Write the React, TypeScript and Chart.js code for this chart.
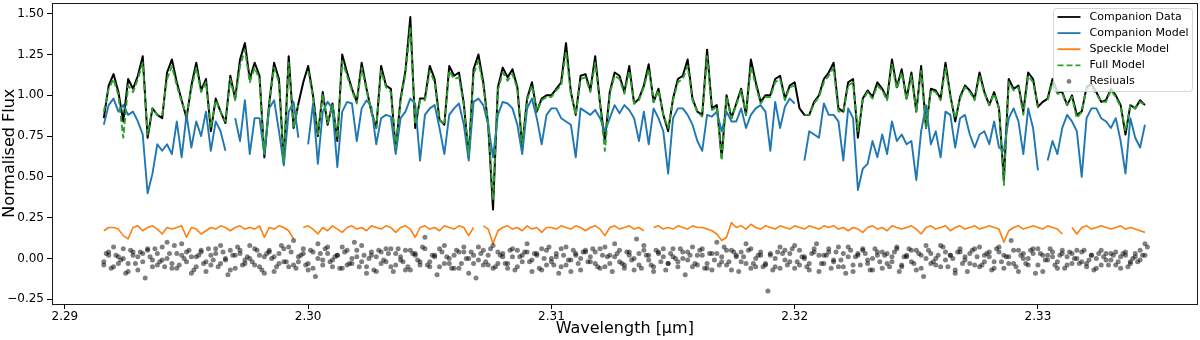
import React, { useEffect, useRef } from "react";
import { Chart, registerables } from "chart.js";

Chart.register(...registerables);

const FONT = "'DejaVu Sans', 'Liberation Sans', sans-serif";

// Wavelength grid [µm]
const wavelength = [
  2.2916, 2.2918, 2.2920, 2.2922, 2.2924, 2.2926, 2.2928, 2.2930, 2.2932, 2.2934,
  2.2936, 2.2938, 2.2940, 2.2942, 2.2944, 2.2946, 2.2948, 2.2950, 2.2952, 2.2954,
  2.2956, 2.2958, 2.2960, 2.2962, 2.2964, 2.2966, 2.2968, 2.2970, 2.2972, 2.2974,
  2.2976, 2.2978, 2.2980, 2.2982, 2.2984, 2.2986, 2.2988, 2.2990, 2.2992, 2.2994,
  2.2996, 2.2998, 2.3000, 2.3002, 2.3004, 2.3006, 2.3008, 2.3010, 2.3012, 2.3014,
  2.3016, 2.3018, 2.3020, 2.3022, 2.3024, 2.3026, 2.3028, 2.3030, 2.3032, 2.3034,
  2.3036, 2.3038, 2.3040, 2.3042, 2.3044, 2.3046, 2.3048, 2.3050, 2.3052, 2.3054,
  2.3056, 2.3058, 2.3060, 2.3062, 2.3064, 2.3066, 2.3068, 2.3070, 2.3072, 2.3074,
  2.3076, 2.3078, 2.3080, 2.3082, 2.3084, 2.3086, 2.3088, 2.3090, 2.3092, 2.3094,
  2.3096, 2.3098, 2.3100, 2.3102, 2.3104, 2.3106, 2.3108, 2.3110, 2.3112, 2.3114,
  2.3116, 2.3118, 2.3120, 2.3122, 2.3124, 2.3126, 2.3128, 2.3130, 2.3132, 2.3134,
  2.3136, 2.3138, 2.3140, 2.3142, 2.3144, 2.3146, 2.3148, 2.3150, 2.3152, 2.3154,
  2.3156, 2.3158, 2.3160, 2.3162, 2.3164, 2.3166, 2.3168, 2.3170, 2.3172, 2.3174,
  2.3176, 2.3178, 2.3180, 2.3182, 2.3184, 2.3186, 2.3188, 2.3190, 2.3192, 2.3194,
  2.3196, 2.3198, 2.3200, 2.3202, 2.3204, 2.3206, 2.3208, 2.3210, 2.3212, 2.3214,
  2.3216, 2.3218, 2.3220, 2.3222, 2.3224, 2.3226, 2.3228, 2.3230, 2.3232, 2.3234,
  2.3236, 2.3238, 2.3240, 2.3242, 2.3244, 2.3246, 2.3248, 2.3250, 2.3252, 2.3254,
  2.3256, 2.3258, 2.3260, 2.3262, 2.3264, 2.3266, 2.3268, 2.3270, 2.3272, 2.3274,
  2.3276, 2.3278, 2.3280, 2.3282, 2.3284, 2.3286, 2.3288, 2.3290, 2.3292, 2.3294,
  2.3296, 2.3298, 2.3300, 2.3302, 2.3304, 2.3306, 2.3308, 2.3310, 2.3312, 2.3314,
  2.3316, 2.3318, 2.3320, 2.3322, 2.3324, 2.3326, 2.3328, 2.3330, 2.3332, 2.3334,
  2.3336, 2.3338, 2.3340, 2.3342, 2.3344,
];

// Intermediate wavelength samples used by part of the residuals
const wavelengthMid = [
  2.2917, 2.2919, 2.2921, 2.2923, 2.2925, 2.2927, 2.2929, 2.2931, 2.2933, 2.2935,
  2.2937, 2.2939, 2.2941, 2.2943, 2.2945, 2.2947, 2.2949, 2.2951, 2.2953, 2.2955,
  2.2957, 2.2959, 2.2961, 2.2963, 2.2965, 2.2967, 2.2969, 2.2971, 2.2973, 2.2975,
  2.2977, 2.2979, 2.2981, 2.2983, 2.2985, 2.2987, 2.2989, 2.2991, 2.2993, 2.2995,
  2.2997, 2.2999, 2.3001, 2.3003, 2.3005, 2.3007, 2.3009, 2.3011, 2.3013, 2.3015,
  2.3017, 2.3019, 2.3021, 2.3023, 2.3025, 2.3027, 2.3029, 2.3031, 2.3033, 2.3035,
  2.3037, 2.3039, 2.3041, 2.3043, 2.3045, 2.3047, 2.3049, 2.3051, 2.3053, 2.3055,
  2.3057, 2.3059, 2.3061, 2.3063, 2.3065, 2.3067, 2.3069, 2.3071, 2.3073, 2.3075,
  2.3077, 2.3079, 2.3081, 2.3083, 2.3085, 2.3087, 2.3089, 2.3091, 2.3093, 2.3095,
  2.3097, 2.3099, 2.3101, 2.3103, 2.3105, 2.3107, 2.3109, 2.3111, 2.3113, 2.3115,
  2.3117, 2.3119, 2.3121, 2.3123, 2.3125, 2.3127, 2.3129, 2.3131, 2.3133, 2.3135,
  2.3137, 2.3139, 2.3141, 2.3143, 2.3145, 2.3147, 2.3149, 2.3151, 2.3153, 2.3155,
  2.3157, 2.3159, 2.3161, 2.3163, 2.3165, 2.3167, 2.3169, 2.3171, 2.3173, 2.3175,
  2.3177, 2.3179, 2.3181, 2.3183, 2.3185, 2.3187, 2.3189, 2.3191, 2.3193, 2.3195,
  2.3197, 2.3199, 2.3201, 2.3203, 2.3205, 2.3207, 2.3209, 2.3211, 2.3213, 2.3215,
  2.3217, 2.3219, 2.3221, 2.3223, 2.3225, 2.3227, 2.3229, 2.3231, 2.3233, 2.3235,
  2.3237, 2.3239, 2.3241, 2.3243, 2.3245, 2.3247, 2.3249, 2.3251, 2.3253, 2.3255,
  2.3257, 2.3259, 2.3261, 2.3263, 2.3265, 2.3267, 2.3269, 2.3271, 2.3273, 2.3275,
  2.3277, 2.3279, 2.3281, 2.3283, 2.3285, 2.3287, 2.3289, 2.3291, 2.3293, 2.3295,
  2.3297, 2.3299, 2.3301, 2.3303, 2.3305, 2.3307, 2.3309, 2.3311, 2.3313, 2.3315,
  2.3317, 2.3319, 2.3321, 2.3323, 2.3325, 2.3327, 2.3329, 2.3331, 2.3333, 2.3335,
  2.3337, 2.3339, 2.3341, 2.3343, 2.3345,
];

const companionData = [
  0.86, 1.06, 1.13, 1.02, 0.84, 1.10, 1.04, 1.12, 1.24, 0.74,
  0.92, 0.88, 0.86, 1.14, 1.22, 1.08, 0.97, 0.86, 1.06, 1.20,
  1.03, 1.10, 0.78, 0.98, 0.90, 0.83, 1.12, 0.98, 1.22, 1.32,
  1.10, 1.20, 1.12, 0.62, 0.95, 1.20, 1.10, 0.58, 1.24, 0.80,
  0.95, 1.08, 1.18, 1.00, 0.75, 1.02, 0.82, 0.95, 0.72, 1.25,
  1.14, 1.04, 0.96, 1.20, 1.04, 0.90, 0.80, 1.18, 1.06, 1.04,
  0.66,
  0.98, 1.15, 1.48, 0.80, 0.98, 0.98, 1.18, 1.10, 0.85, 0.82,
  1.18, 1.12, 1.14, 0.95, 0.62, 1.16, 1.25, 1.08, 0.82, 0.30,
  1.05, 1.17, 1.11, 1.16, 1.05, 0.68, 0.98, 1.08, 0.90, 0.98,
  1.00,
  1.00, 1.04, 1.08, 1.32, 1.02, 0.88, 1.12, 1.13, 1.03, 1.24,
  0.95, 0.72, 1.02, 1.14, 1.12, 1.02, 1.18, 0.95, 0.98, 1.06,
  1.19, 0.96, 1.04, 0.88, 0.78, 0.98, 1.10, 1.12, 1.22, 0.98,
  0.90,
  0.88, 1.28, 0.92, 0.94, 0.62, 1.00, 0.86, 0.95, 1.04, 0.88,
  1.22, 1.08, 0.96, 1.00, 1.00, 1.10, 1.12, 0.98, 1.06, 1.08,
  0.92, 0.88, 0.88, 0.96, 1.00, 1.10, 1.14, 1.20, 0.92, 0.90,
  1.08,
  1.10, 0.74, 0.98, 1.03, 0.99, 1.08, 1.04, 0.98, 1.22, 1.05,
  1.16, 0.98, 1.14, 0.90, 1.18, 0.80, 1.04, 1.03, 0.98, 1.20,
  1.00, 0.84, 0.99, 1.06, 1.03, 0.98, 1.14, 1.02, 0.94, 1.02,
  0.92,
  0.48, 1.10, 1.04, 1.06, 0.90, 1.14, 1.10, 0.93, 0.96, 0.98,
  1.10, 1.02, 1.02, 0.94, 1.00, 0.88, 0.90, 1.05, 1.07, 1.02,
  0.96, 0.97, 1.04, 1.00, 0.94, 0.76, 0.94, 0.92, 0.97, 0.94,
];

const companionModel = [
  0.82, 0.94, 0.98, 0.90, 0.94, 0.88, 0.90, 0.84, 0.76, 0.40,
  0.52, 0.70, 0.66, 0.70, 0.64, 0.84, 0.62, 0.88, 0.68, 0.84,
  0.75, 0.90, 0.66, 0.84, 0.78, 0.66, null, 0.86, 0.72, 0.97,
  0.64, 0.86, 0.86, 0.64, 0.92, 0.97, 0.78, 0.57, 0.90, 0.96,
  0.74, null, 0.70, 0.95, 0.58, 0.90, 0.96, 0.92, 0.56, 0.90,
  0.96, 0.95, 0.72, 0.92, 0.97, 0.93, 0.70, 0.86, 0.88, 0.87,
  0.64,
  0.86, 0.90, 0.98, 0.95, 0.60, 0.88, 0.92, 0.94, 0.80, 0.64,
  0.88, 0.92, 0.95, 0.82, 0.60, 0.96, 0.98, 0.94, 0.82, 0.62,
  0.88, 0.96, 0.95, 0.92, 0.82, 0.64, 0.92, 0.98, 0.86, 0.70,
  0.88,
  0.92, 0.92, 0.86, 0.84, 0.82, 0.62, 0.92, 0.90, 0.88, 0.91,
  0.86, 0.78, 0.86, 0.94, 0.89, 0.94, 0.91, 0.86, 0.72, 0.90,
  0.70, 0.92, 0.86, 0.78, 0.52, 0.86, 0.92, 0.92, 0.88, 0.82,
  0.72,
  0.66, 0.88, 0.87, 0.90, 0.78, 0.90, 0.84, 0.84, 0.92, 0.80,
  0.88, 0.92, 0.94, 0.90, 0.66, 0.96, 0.80, 0.93, 0.98, 0.95,
  null, 0.60, 0.78, 0.76, 0.74, 0.95, 0.88, 0.88, 0.84, 0.60,
  0.92,
  0.86, 0.42, 0.55, 0.58, 0.72, 0.62, 0.76, 0.64, 0.84, 0.72,
  0.76, 0.70, 0.72, 0.48, 0.78, 0.94, 0.70, 0.78, 0.62, 0.90,
  0.88, 0.68, 0.86, 0.88, 0.76, 0.68, 0.76, 0.78, 0.70, 0.84,
  0.68,
  0.66, 0.86, 0.92, 0.84, 0.64, 0.92, 0.80, 0.54, null, 0.60,
  0.72, 0.64, 0.80, 0.88, 0.84, 0.78, 0.50, 0.86, 0.92, 0.92,
  0.86, 0.84, 0.80, 0.86, 0.72, 0.52, 0.86, 0.74, 0.68, 0.82,
];

const speckleModel = [
  0.17, 0.19, 0.19, 0.18, 0.14, 0.12, 0.19, 0.20, 0.17, 0.19,
  0.20, 0.18, 0.15, 0.19, 0.18, 0.19, 0.20, 0.13, 0.19, 0.18,
  0.15, 0.17, 0.19, 0.18, 0.20, 0.19, 0.17, 0.19, 0.20, 0.18,
  0.19, 0.18, 0.20, 0.13, 0.19, 0.18, 0.20, 0.19, 0.17, 0.12,
  null, 0.19, 0.20, 0.18, 0.15, 0.19, 0.17, 0.20, 0.18, 0.16,
  0.19, 0.20, 0.18, 0.19, 0.17, 0.20, 0.19, 0.18, 0.20, 0.19,
  0.16,
  0.19, 0.20, 0.18, 0.13, 0.19, 0.20, 0.18, 0.19, 0.17, 0.20,
  0.19, 0.18, 0.20, 0.19, 0.14, 0.19, null, 0.20, 0.18, 0.09,
  0.17, 0.19, 0.20, 0.18, 0.19, 0.17, 0.20, 0.18, 0.19, 0.16,
  0.19,
  0.19, 0.18, 0.20, 0.19, 0.18, 0.20, 0.19, 0.17, 0.19, 0.20,
  0.18, 0.14, 0.19, 0.20, 0.18, 0.19, 0.20, 0.18, 0.19, 0.17,
  null, 0.19, 0.20, 0.18, 0.19, 0.18, 0.20, 0.19, 0.18, 0.20,
  0.19,
  0.19, 0.18, 0.17, 0.15, 0.11, 0.13, 0.22, 0.19, 0.20, 0.18,
  0.21, 0.19, 0.18, 0.20, 0.19, 0.18, 0.20, 0.19, 0.18, 0.20,
  0.19, 0.18, 0.20, 0.19, 0.18, 0.20, 0.19, 0.20, 0.18, 0.19,
  0.17,
  0.19, 0.18, 0.16, 0.19, 0.20, 0.18, 0.19, 0.17, 0.20, 0.19,
  0.18, 0.19, 0.20, 0.18, 0.15, 0.19, 0.20, 0.18, 0.19, 0.20,
  0.17, 0.19, 0.20, 0.18, 0.19, 0.20, 0.18, 0.19, 0.20, 0.19,
  0.18,
  0.10, 0.17, 0.19, 0.20, 0.18, 0.19, 0.20, 0.19, 0.18, 0.20,
  0.19, 0.18, 0.15, null, 0.19, 0.15, 0.19, 0.20, 0.18, 0.19,
  0.20, 0.19, 0.18, 0.19, 0.20, 0.18, 0.19, 0.18, 0.17, 0.16,
];

const fullModel = [
  0.90, 1.04, 1.10, 1.00, 0.74, 1.06, 1.02, 1.10, 1.20, 0.76,
  0.92, 0.88, 0.88, 1.10, 1.18, 1.06, 0.96, 0.88, 1.04, 1.17,
  1.02, 1.08, 0.80, 0.97, 0.90, 0.84, 1.10, 0.97, 1.18, 1.28,
  1.08, 1.17, 1.10, 0.64, 0.95, 1.17, 1.08, 0.60, 1.20, 0.80,
  0.94, null, 1.15, 0.99, 0.76, 1.01, 0.83, 0.94, 0.74, 1.21,
  1.12, 1.03, 0.95, 1.17, 1.03, 0.90, 0.80, 1.15, 1.05, 1.02,
  0.68,
  0.97, 1.13, 1.42, 0.82, 0.97, 0.97, 1.15, 1.08, 0.85, 0.82,
  1.15, 1.10, 1.11, 0.94, 0.64, 1.13, 1.21, 1.06, 0.83, 0.36,
  1.03, 1.14, 1.09, 1.13, 1.04, 0.70, 0.97, 1.06, 0.90, 0.97,
  0.99,
  0.99, 1.03, 1.06, 1.27, 1.01, 0.88, 1.10, 1.11, 1.02, 1.20,
  0.94, 0.66, 1.01, 1.12, 1.10, 1.01, 1.15, 0.95, 0.97, 1.05,
  1.16, 0.96, 1.03, 0.88, 0.80, 0.97, 1.08, 1.10, 1.18, 0.97,
  0.90,
  0.87, 1.24, 0.91, 0.93, 0.60, 0.99, 0.86, 0.94, 1.03, 0.88,
  1.18, 1.06, 0.95, 0.99, 0.99, 1.08, 1.10, 0.97, 1.05, 1.06,
  null, 0.88, 0.88, 0.95, 0.99, 1.08, 1.12, 1.17, 0.90, 0.90,
  1.06,
  1.08, 0.78, 0.97, 1.02, 0.98, 1.06, 1.03, 0.97, 1.19, 1.04,
  1.14, 0.97, 1.12, 0.90, 1.15, 0.80, 1.03, 1.02, 0.97, 1.17,
  0.99, 0.86, 0.98, 1.05, 1.02, 0.97, 1.12, 1.01, 0.94, 1.01,
  0.92,
  0.45, 1.08, 1.03, 1.05, 0.88, 1.12, 1.08, 0.93, null, 0.97,
  1.08, 1.01, 1.01, 0.94, 0.99, 0.86, 0.90, 1.04, 1.05, 1.01,
  0.96, 0.96, 1.03, 0.99, 0.93, 0.78, 0.94, 0.92, 0.96, 0.94,
];

const residualsA = [
  -0.02, 0.04, -0.05, 0.01, 0.06, -0.03, 0.02, -0.07, 0.03, 0.05, -0.01, -0.04, 0.07, 0.00, -0.06, 0.03, 0.09, -0.02, 0.01, -0.05,
  0.04, -0.08, 0.02, 0.06, -0.03, 0.00, 0.05, -0.06, 0.03, -0.01, 0.08, -0.04, 0.02, -0.09, 0.05, 0.01, -0.03, 0.06, -0.05, 0.11,
  -0.02, 0.03, -0.07, 0.04, 0.00, -0.04, 0.07, -0.01, 0.02, -0.06, 0.05, -0.03, 0.01, 0.08, -0.05, 0.02, -0.08, 0.04, -0.02, 0.06,
  -0.04, 0.01, 0.05, -0.07, 0.03, -0.02, 0.13, -0.05, 0.02, 0.06, -0.03, 0.00, -0.06, 0.04, 0.07, -0.09, 0.02, -0.01, 0.05, -0.04,
  0.08, -0.03, 0.03, -0.06, 0.01, 0.05, -0.02, 0.04, -0.08, 0.02, 0.06, -0.04, 0.00, 0.03, -0.05, 0.07, -0.01, 0.02, -0.07, 0.04,
  0.01, -0.03, 0.06, -0.05, 0.02, 0.09, -0.02, -0.06, 0.04, 0.00, -0.04, 0.05, 0.02, -0.08, 0.03, 0.06, -0.03, 0.01, -0.05, 0.04,
  -0.01, 0.07, -0.04, 0.02, -0.06, 0.03, 0.10, -0.02, 0.05, -0.07, 0.01, 0.04, -0.03, 0.06, -0.05, 0.02, -0.04, 0.03, 0.00, -0.06,
  0.05, -0.02, 0.08, -0.04, 0.01, -0.07, 0.04, 0.02, -0.03, 0.06, -0.01, -0.05, 0.03, 0.07, -0.08, 0.02, 0.05, -0.03, 0.00, 0.04,
  -0.06, 0.03, -0.02, 0.06, -0.04, 0.01, 0.05, -0.07, 0.02, 0.08, -0.03, 0.00, -0.05, 0.04, 0.02, -0.09, 0.06, -0.01, 0.03, -0.04,
  0.07, -0.02, 0.01, -0.06, 0.04, 0.02, -0.03, 0.05, -0.08, 0.03, 0.00, 0.06, -0.04, 0.02, -0.01, 0.04, -0.06, 0.03, 0.01, -0.03,
  0.05, -0.02, -0.05, 0.02, 0.00, -0.04, 0.03, -0.01, 0.04, -0.06, 0.02, -0.03, 0.01, 0.05, 0.09,
];

const residualsB = [
  0.03, -0.06, 0.02, -0.01, -0.09, 0.05, -0.03, 0.04, -0.12, 0.01, 0.06, -0.02, -0.05, 0.03, 0.08, -0.04, 0.00, 0.05, -0.07, 0.02,
  -0.03, 0.06, -0.01, -0.05, 0.04, -0.10, 0.02, 0.07, -0.04, 0.01, -0.02, 0.05, -0.07, 0.03, 0.00, -0.05, 0.08, -0.02, 0.04, -0.06,
  0.02, -0.04, 0.05, -0.11, 0.03, 0.06, -0.02, 0.01, -0.06, 0.04, -0.03, 0.10, -0.05, 0.02, 0.00, -0.07, 0.05, -0.01, 0.03, -0.08,
  0.06, -0.02, -0.05, 0.03, -0.01, 0.07, -0.04, 0.02, -0.10, 0.04, 0.01, -0.06, 0.05, -0.03, 0.00, 0.04, -0.12, 0.03, -0.02, 0.06,
  -0.05, 0.02, -0.03, 0.05, -0.07, 0.01, 0.04, -0.02, 0.03, -0.06, 0.00, 0.07, -0.04, -0.09, 0.02, -0.01, 0.05, -0.03, 0.04, -0.02,
  0.06, -0.05, 0.02, 0.01, -0.08, 0.03, -0.03, 0.04, -0.01, 0.12, -0.06, 0.02, -0.04, 0.05, -0.02, -0.07, 0.03, 0.00, 0.06, -0.10,
  0.02, -0.03, 0.05, -0.06, 0.03, -0.01, -0.04, 0.07, -0.02, 0.04, -0.08, 0.01, 0.05, -0.03, 0.02, -0.05, -0.20, -0.07, 0.04, 0.03,
  -0.04, 0.06, -0.02, 0.01, -0.05, 0.03, 0.09, -0.03, 0.02, -0.06, 0.04, -0.01, -0.09, 0.05, 0.01, -0.04, 0.03, -0.07, 0.06, -0.02,
  0.02, -0.05, 0.04, -0.08, 0.01, 0.06, -0.03, 0.03, -0.11, 0.05, -0.02, 0.02, 0.07, -0.05, 0.00, 0.04, -0.03, -0.08, 0.05, 0.01,
  -0.04, 0.03, -0.07, 0.06, -0.02, 0.01, 0.11, -0.05, 0.02, -0.03, 0.05, -0.09, 0.03, -0.01, 0.06, -0.04, 0.02, -0.06, 0.04, 0.00,
  -0.03, 0.05, -0.01, -0.07, 0.03, 0.01, -0.04, 0.02, -0.02, 0.03, -0.05, 0.00, -0.02, 0.02, 0.07,
];

const residualsC = [
  -0.04, 0.02, 0.07, -0.03, 0.00, -0.08, 0.04, 0.01, -0.02, 0.06, -0.05, 0.03, -0.01, 0.10, -0.03, -0.06, 0.02, 0.04, -0.09, 0.01,
  0.05, -0.02, -0.04, 0.03, 0.08, -0.01, -0.07, 0.02, 0.05, -0.03, 0.00, 0.06, -0.05, 0.01, 0.04, -0.08, 0.03, -0.02, 0.07, -0.04,
  0.01, 0.06, -0.03, -0.06, 0.09, -0.01, 0.03, -0.05, 0.02, 0.07, -0.04, 0.00, 0.05, -0.02, -0.09, 0.04, 0.01, -0.03, 0.06, -0.05,
  0.03, -0.01, -0.07, 0.05, 0.02, -0.04, 0.06, -0.02, 0.01, -0.05, 0.08, -0.03, 0.02, -0.06, 0.04, 0.00, -0.03, 0.07, -0.04, 0.02,
  -0.06, 0.04, 0.01, -0.03, 0.06, -0.05, 0.02, 0.09, -0.01, 0.03, -0.07, 0.05, -0.02, 0.01, 0.06, -0.04, -0.08, 0.03, 0.00, 0.05,
  -0.02, 0.04, -0.06, 0.07, -0.03, 0.01, 0.05, -0.04, 0.02, -0.07, 0.03, 0.08, -0.01, -0.05, 0.04, 0.01, -0.03, 0.06, -0.02, 0.00,
  0.04, -0.05, 0.02, 0.06, -0.03, -0.07, 0.03, 0.01, -0.04, 0.05, 0.02, -0.02, 0.09, -0.06, 0.00, 0.04, -0.03, 0.02, -0.05, 0.07,
  -0.01, 0.03, -0.06, 0.05, 0.00, -0.03, 0.06, -0.08, 0.02, 0.04, -0.02, 0.07, -0.05, 0.01, -0.04, 0.03, 0.06, -0.01, -0.07, 0.02,
  0.04, -0.03, 0.01, 0.07, -0.05, 0.02, -0.02, 0.05, -0.06, 0.00, 0.03, -0.04, 0.08, -0.01, 0.02, -0.07, 0.04, 0.01, -0.03, 0.06,
  -0.05, 0.02, 0.04, -0.02, 0.07, -0.06, 0.01, -0.03, 0.05, 0.00, -0.04, 0.03, 0.06, -0.08, 0.02, 0.01, -0.02, 0.05, -0.04, 0.03,
  0.00, 0.04, -0.03, 0.02, -0.06, 0.05, -0.01, 0.03, -0.04, 0.01, 0.04, -0.02, 0.03, -0.01, 0.02,
];

const xTickValues = [2.29, 2.30, 2.31, 2.32, 2.33];
const yTickValues = [-0.25, 0.0, 0.25, 0.5, 0.75, 1.0, 1.25, 1.5];
const X_MIN = 2.28947;
const X_MAX = 2.33656;
const Y_MIN = -0.279;
const Y_MAX = 1.569;

const legendEntries = [
  { label: "Companion Data", color: "#000000", kind: "line", dash: [] as number[] },
  { label: "Companion Model", color: "#1f77b4", kind: "line", dash: [] as number[] },
  { label: "Speckle Model", color: "#ff7f0e", kind: "line", dash: [] as number[] },
  { label: "Full Model", color: "#2ca02c", kind: "line", dash: [6, 3] },
  { label: "Resiuals", color: "rgba(0,0,0,0.5)", kind: "dot", dash: [] as number[] },
];

const framePlugin = {
  id: "frame",
  afterDraw(chart: any) {
    const { ctx, chartArea } = chart;
    ctx.save();
    ctx.strokeStyle = "#1a1a1a";
    ctx.lineWidth = 1;
    const l = Math.round(chartArea.left) + 0.5;
    const t = Math.round(chartArea.top) + 0.5;
    const r = Math.round(chartArea.right) - 0.5;
    const b = Math.round(chartArea.bottom) + 0.5;
    ctx.strokeRect(l, t, r - l, b - t);
    ctx.restore();
  },
};

const legendPlugin = {
  id: "mplLegend",
  afterDraw(chart: any) {
    const { ctx, chartArea } = chart;
    const w = 139;
    const h = 83;
    const x0 = chartArea.right - 5 - w;
    const y0 = chartArea.top + 6;
    ctx.save();
    const r = 3;
    ctx.beginPath();
    ctx.moveTo(x0 + r, y0);
    ctx.lineTo(x0 + w - r, y0);
    ctx.quadraticCurveTo(x0 + w, y0, x0 + w, y0 + r);
    ctx.lineTo(x0 + w, y0 + h - r);
    ctx.quadraticCurveTo(x0 + w, y0 + h, x0 + w - r, y0 + h);
    ctx.lineTo(x0 + r, y0 + h);
    ctx.quadraticCurveTo(x0, y0 + h, x0, y0 + h - r);
    ctx.lineTo(x0, y0 + r);
    ctx.quadraticCurveTo(x0, y0, x0 + r, y0);
    ctx.closePath();
    ctx.fillStyle = "rgba(255,255,255,0.8)";
    ctx.fill();
    ctx.strokeStyle = "rgba(204,204,204,0.8)";
    ctx.lineWidth = 1;
    ctx.stroke();

    ctx.font = `11px ${FONT}`;
    ctx.textBaseline = "middle";
    ctx.textAlign = "left";
    legendEntries.forEach((e, i) => {
      const cy = y0 + 8.5 + i * 16.1;
      const hx0 = x0 + 4;
      const hx1 = x0 + 27;
      if (e.kind === "line") {
        ctx.beginPath();
        ctx.setLineDash(e.dash);
        ctx.strokeStyle = e.color;
        ctx.lineWidth = 1.8;
        ctx.moveTo(hx0, cy);
        ctx.lineTo(hx1, cy);
        ctx.stroke();
        ctx.setLineDash([]);
      } else {
        ctx.beginPath();
        ctx.fillStyle = e.color;
        ctx.arc((hx0 + hx1) / 2, cy, 2.4, 0, Math.PI * 2);
        ctx.fill();
      }
      ctx.fillStyle = "#000";
      ctx.fillText(e.label, x0 + 36, cy);
    });
    ctx.restore();
  },
};

function toPoints(xs: number[], values: (number | null)[]) {
  return xs.map((x, i) => ({ x, y: values[i] }));
}

function fmtTick(v: number) {
  const s = Math.abs(v).toFixed(2);
  return v < -1e-9 ? "\u2212" + s : s;
}

export default function App() {
  const canvasRef = useRef<HTMLCanvasElement | null>(null);

  useEffect(() => {
    if (!canvasRef.current) return;
    Chart.defaults.font.family = FONT;
    Chart.defaults.color = "#000";

    const lineCommon = {
      type: "line" as const,
      pointRadius: 0,
      pointHoverRadius: 0,
      tension: 0,
      spanGaps: false,
      borderJoinStyle: "round" as const,
      borderCapStyle: "butt" as const,
      fill: false,
    };

    const chart = new Chart(canvasRef.current, {
      type: "line",
      data: {
        datasets: [
          {
            ...lineCommon,
            label: "Companion Data",
            data: toPoints(wavelength, companionData),
            borderColor: "#000000",
            borderWidth: 2,
            order: 5,
          },
          {
            ...lineCommon,
            label: "Companion Model",
            data: toPoints(wavelength, companionModel),
            borderColor: "#1f77b4",
            borderWidth: 1.9,
            order: 4,
          },
          {
            ...lineCommon,
            label: "Speckle Model",
            data: toPoints(wavelength, speckleModel),
            borderColor: "#ff7f0e",
            borderWidth: 1.6,
            order: 3,
          },
          {
            ...lineCommon,
            label: "Full Model",
            data: toPoints(wavelength, fullModel),
            borderColor: "#2ca02c",
            borderWidth: 1.9,
            borderDash: [6, 3],
            order: 2,
          },
          {
            type: "scatter" as const,
            label: "Resiuals",
            data: [
              ...toPoints(wavelength, residualsA),
              ...toPoints(wavelengthMid, residualsB),
              ...toPoints(wavelength, residualsC),
            ],
            backgroundColor: "rgba(0,0,0,0.5)",
            borderWidth: 0,
            pointRadius: 2.5,
            pointHoverRadius: 2.5,
            showLine: false,
            order: 1,
          },
        ] as any,
      },
      options: {
        responsive: false,
        animation: false,
        devicePixelRatio: 1,
        events: [],
        layout: { padding: { left: 0, top: 1, right: 1, bottom: 0 } },
        plugins: {
          legend: { display: false },
          tooltip: { enabled: false },
          title: { display: false },
        },
        scales: {
          x: {
            type: "linear",
            min: X_MIN,
            max: X_MAX,
            afterFit: (s: any) => {
              s.height = 36;
              s.paddingLeft = 0;
              s.paddingRight = 0;
            },
            afterBuildTicks: (s: any) => {
              s.ticks = xTickValues.map((v) => ({ value: v }));
            },
            ticks: {
              callback: (v: any) => Number(v).toFixed(2),
              font: { family: FONT, size: 12 },
              color: "#000",
              padding: 1,
              maxRotation: 0,
              autoSkip: false,
            },
            grid: {
              drawOnChartArea: false,
              drawTicks: true,
              tickLength: 5,
              color: "#000",
              lineWidth: 1,
            },
            border: { display: false },
            title: {
              display: true,
              text: "Wavelength [μm]",
              font: { family: FONT, size: 16 },
              color: "#000",
              padding: { top: 0, bottom: 2 },
            },
          },
          y: {
            type: "linear",
            min: Y_MIN,
            max: Y_MAX,
            afterFit: (s: any) => {
              s.width = 52;
              s.paddingTop = 0;
              s.paddingBottom = 0;
            },
            afterBuildTicks: (s: any) => {
              s.ticks = yTickValues.map((v) => ({ value: v }));
            },
            ticks: {
              callback: (v: any) => fmtTick(Number(v)),
              font: { family: FONT, size: 12 },
              color: "#000",
              padding: 3,
              autoSkip: false,
            },
            grid: {
              drawOnChartArea: false,
              drawTicks: true,
              tickLength: 5,
              color: "#000",
              lineWidth: 1,
            },
            border: { display: false },
            title: {
              display: true,
              text: "Normalised Flux",
              font: { family: FONT, size: 16 },
              color: "#000",
              padding: { top: 0, bottom: 0 },
            },
          },
        },
      } as any,
      plugins: [framePlugin, legendPlugin],
    });

    return () => {
      chart.destroy();
    };
  }, []);

  return (
    <div style={{ position: "absolute", left: 0, top: 0, width: 1200, height: 340, background: "#fff" }}>
      <canvas ref={canvasRef} width={1200} height={340} style={{ display: "block", width: 1200, height: 340 }} />
    </div>
  );
}
